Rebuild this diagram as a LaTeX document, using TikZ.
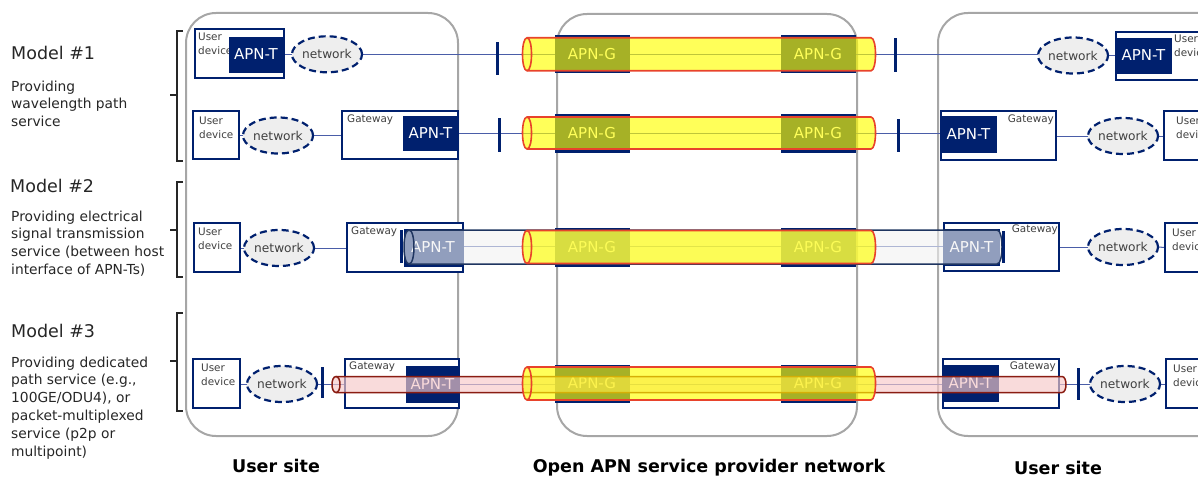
\documentclass[tikz,border=0pt]{standalone}
\usepackage{fontspec}
\setmainfont{DejaVu Sans}
\usetikzlibrary{shapes.geometric}
\definecolor{navy}{HTML}{00206E}
\definecolor{linec}{HTML}{4A5DA8}
\definecolor{sitegray}{HTML}{A6A6A6}
\definecolor{netfill}{HTML}{EEEEEE}
\definecolor{ytubefill}{HTML}{FFFF00}
\definecolor{ytubedraw}{HTML}{E8432B}
\definecolor{btubefill}{HTML}{F2F2F2}
\definecolor{btubedraw}{HTML}{1F3560}
\definecolor{rtubefill}{HTML}{F7C9C9}
\definecolor{rtubedraw}{HTML}{8A1C12}
\definecolor{txtgray}{HTML}{404040}
\definecolor{txtdark}{HTML}{262626}
\pgfdeclarelayer{bg}\pgfdeclarelayer{lines}\pgfdeclarelayer{tubes}\pgfdeclarelayer{top}
\pgfsetlayers{bg,lines,main,tubes,top}
% #1 x left face, #2 x right end, #3 y centre, #4 x radius, #5 y radius, #6 style
\newcommand{\tubeshape}[6]{%
  \path[#6] ({#1},{#3-#5}) -- ({#2},{#3-#5})
    .. controls ({#2+1.333*#4},{#3-#5}) and ({#2+1.333*#4},{#3+#5}) .. ({#2},{#3+#5})
    -- ({#1},{#3+#5})
    .. controls ({#1-1.333*#4},{#3+#5}) and ({#1-1.333*#4},{#3-#5}) .. ({#1},{#3-#5}) -- cycle;
  \path[#6,fill=none] ({#1},{#3-#5})
    .. controls ({#1+1.333*#4},{#3-#5}) and ({#1+1.333*#4},{#3+#5}) .. ({#1},{#3+#5});
}
\begin{document}
\begin{tikzpicture}[x=1pt,y=-1pt,
  site/.style={draw=sitegray,line width=2pt,rounded corners=30pt},
  box/.style={draw=navy,line width=1.8pt,fill=white,inner sep=0pt,outer sep=0pt},
  apnt/.style={fill=navy,draw=navy,line width=0.6pt,inner sep=0pt,outer sep=0pt,text=white,font=\fontsize{15}{18}\selectfont},
  net/.style={ellipse,draw=navy,line width=2.2pt,dash pattern=on 7pt off 4pt,fill=netfill,minimum width=70pt,minimum height=36pt,inner sep=0pt,outer sep=0pt,font=\fontsize{12.2}{14}\selectfont,text=txtgray},
  bar/.style={fill=navy,inner sep=0pt,outer sep=0pt,minimum width=3pt},
  small/.style={font=\fontsize{10.4}{13.5}\selectfont,text=txtgray,inner sep=0pt,align=left},
  link/.style={draw=linec,line width=1pt},
  brk/.style={draw=txtdark,line width=1.2pt},
  model/.style={font=\fontsize{17.5}{21}\selectfont,text=txtdark,inner sep=0pt},
  desc/.style={font=\fontsize{13.8}{17.8}\selectfont,text=txtdark,inner sep=0pt,align=left},
  lbl/.style={font=\fontsize{17.5}{21}\selectfont\bfseries,text=black,inner sep=0pt},
  ytube/.style={fill=ytubefill,fill opacity=0.65,draw=ytubedraw,line width=1.6pt},
  btube/.style={fill=btubefill,fill opacity=0.6,draw=btubedraw,line width=1.5pt},
  rtube/.style={fill=rtubefill,fill opacity=0.66,draw=rtubedraw,line width=1.5pt}]
\useasboundingbox (0,0) rectangle (1198,476);
\clip (0,0) rectangle (1198,476);

% ---- site boxes ----
\begin{pgfonlayer}{bg}
\draw[site] (186,13) rectangle (458,436);
\draw[site] (557,14) rectangle (857,436);
\draw[site] (938,13) rectangle (1240,436);
\end{pgfonlayer}

% ---- left texts ----
\node[model,anchor=base west] (m1) at (11,60) {Model \#1};
\node[desc,anchor=north west] (d1) at (11,80.5) {Providing\\wavelength path\\service};
\node[model,anchor=base west] (m2) at (10,192) {Model \#2};
\node[desc,anchor=north west] (d2) at (11,210.5) {Providing electrical\\signal transmission\\service (between host\\interface of APN-Ts)};
\node[model,anchor=base west] (m3) at (11,337) {Model \#3};
\node[desc,anchor=north west] (d3) at (11,356.5) {Providing dedicated\\path service (e.g.,\\100GE/ODU4), or\\packet-multiplexed\\service (p2p or\\multipoint)};
\draw[brk] (183,31) -- (177,31) -- (177,161) -- (183,161);
\draw[brk] (177,95) -- (170,95);
\draw[brk] (183,182) -- (177,182) -- (177,277) -- (183,277);
\draw[brk] (177,230) -- (170,230);
\draw[brk] (183,313) -- (177,313) -- (177,411) -- (183,411);
\draw[brk] (177,361) -- (170,361);

% ---- bottom labels ----
\node[lbl,anchor=base] (s1) at (276,472) {User site};
\node[lbl,anchor=base] (s2) at (709,472) {Open APN service provider network};
\node[lbl,anchor=base] (s3) at (1058,474) {User site};

% ================= Row 1 =================
\node[box,minimum width=89pt,minimum height=49pt] (ud1L) at (239.5,53.5) {};
\node[small,anchor=north west] (ud1Lt) at (198,33) {User\\device};
\node[apnt,minimum width=54pt,minimum height=35pt] (at1L) at (256,54.5) {APN-T};
\node[net] (n1L) at (327,54.3) {network};
\node[apnt,minimum width=74pt,minimum height=37pt] (ag1L) at (592,54.3) {APN-G};
\node[apnt,minimum width=74pt,minimum height=37pt] (ag1R) at (818,54.3) {APN-G};
\node[net] (n1R) at (1073,55.5) {network};
\node[box,minimum width=104pt,minimum height=48pt] (ud1R) at (1168,56) {};
\node[small,anchor=north west] (ud1Rt) at (1174,35) {User\\device};
\node[apnt,minimum width=55pt,minimum height=35pt] (at1R) at (1143.5,55.5) {APN-T};

% ================= Row 2 =================
\node[box,minimum width=46pt,minimum height=48pt] (ud2L) at (216,135) {};
\node[small,anchor=north west] (ud2Lt) at (199,117) {User\\device};
\node[net] (n2L) at (278,135.5) {network};
\node[box,minimum width=116pt,minimum height=48pt] (gw2L) at (400,135) {};
\node[small,anchor=north west] (gw2Lt) at (347,115) {Gateway};
\node[apnt,minimum width=55pt,minimum height=34pt] (at2L) at (430.5,133.5) {APN-T};
\node[apnt,minimum width=74pt,minimum height=37pt] (ag2L) at (592,133.3) {APN-G};
\node[apnt,minimum width=74pt,minimum height=37pt] (ag2R) at (818,133.3) {APN-G};
\node[box,minimum width=115pt,minimum height=49pt] (gw2R) at (998.5,135.5) {};
\node[small,anchor=north east] (gw2Rt) at (1054,115) {Gateway};
\node[apnt,minimum width=55pt,minimum height=36pt] (at2R) at (968.5,134.5) {APN-T};
\node[net] (n2R) at (1123,136) {network};
\node[box,minimum width=60pt,minimum height=49pt] (ud2R) at (1194,135.5) {};
\node[small,anchor=north west] (ud2Rt) at (1176,117) {User\\device};

% ================= Row 3 =================
\node[box,minimum width=46pt,minimum height=49pt] (ud3L) at (217,247.5) {};
\node[small,anchor=north west] (ud3Lt) at (198,228) {User\\device};
\node[net] (n3L) at (279,248) {network};
\node[box,minimum width=116pt,minimum height=49pt] (gw3L) at (405,247.5) {};
\node[small,anchor=north west] (gw3Lt) at (351,227) {Gateway};
\node[apnt,minimum width=58pt,minimum height=37pt] (at3L) at (433,247.5) {APN-T};
\node[apnt,minimum width=74pt,minimum height=38pt] (ag3L) at (592,247) {APN-G};
\node[apnt,minimum width=74pt,minimum height=38pt] (ag3R) at (818,247) {APN-G};
\node[box,minimum width=115pt,minimum height=48pt] (gw3R) at (1001.5,247) {};
\node[small,anchor=north east] (gw3Rt) at (1058,225) {Gateway};
\node[apnt,minimum width=55pt,minimum height=36pt] (at3R) at (971.5,247) {APN-T};
\node[net] (n3R) at (1123,247) {network};
\node[box,minimum width=60pt,minimum height=49pt] (ud3R) at (1195,247.5) {};
\node[small,anchor=north west] (ud3Rt) at (1172,229) {User\\device};

% ================= Row 4 =================
\node[box,minimum width=47pt,minimum height=49pt] (ud4L) at (216.5,383.5) {};
\node[small,anchor=north west] (ud4Lt) at (201,364) {User\\device};
\node[net] (n4L) at (282,384) {network};
\node[box,minimum width=114pt,minimum height=49pt] (gw4L) at (402,383.5) {};
\node[small,anchor=north west] (gw4Lt) at (349,362) {Gateway};
\node[apnt,minimum width=53pt,minimum height=36pt] (at4L) at (432.5,384) {APN-T};
\node[apnt,minimum width=74pt,minimum height=37pt] (ag4L) at (592,383.5) {APN-G};
\node[apnt,minimum width=74pt,minimum height=37pt] (ag4R) at (818,383.5) {APN-G};
\node[box,minimum width=116pt,minimum height=49pt] (gw4R) at (1001,383.5) {};
\node[small,anchor=north east] (gw4Rt) at (1056,362) {Gateway};
\node[apnt,minimum width=55pt,minimum height=36pt] (at4R) at (970.5,383) {APN-T};
\node[net] (n4R) at (1125,384) {network};
\node[box,minimum width=60pt,minimum height=49pt] (ud4R) at (1196,383.5) {};
\node[small,anchor=north west] (ud4Rt) at (1173,365) {User\\device};

% ---- bars (top layer) ----
\begin{pgfonlayer}{top}
\node[bar,minimum height=33pt] (b1L) at (497,58.3) {};
\node[bar,minimum height=34pt] (b1R) at (895,55) {};
\node[bar,minimum height=34pt] (b2L) at (499,135) {};
\node[bar,minimum height=33pt] (b2R) at (898,135.5) {};
\node[bar,minimum height=33pt] (b3L) at (401,246.5) {};
\node[bar,minimum height=32pt] (b3R) at (1003,247) {};
\node[bar,minimum height=31pt] (b4L) at (322,382.5) {};
\node[bar,minimum height=32pt] (b4R) at (1078,384) {};
\end{pgfonlayer}

% ---- connectors ----
\begin{pgfonlayer}{lines}
\draw[link] (at1L.east |- n1L.west) -- (n1L.west);
\draw[link] (n1L.east) -- (n1L.east -| n1R.west);
\draw[link] (n1R.east) -- (n1R.east -| at1R.west);
\draw[link] (ud2L.east |- n2L.west) -- (n2L.west);
\draw[link] (n2L.east) -- (gw2L.west |- n2L.east);
\draw[link] (at2L.east) -- (at2L.east -| at2R.west);
\draw[link] (gw2R.east |- n2R.west) -- (n2R.west);
\draw[link] (n2R.east) -- (n2R.east -| ud2R.west);
\draw[link] (ud3L.east |- n3L.west) -- (n3L.west);
\draw[link] (n3L.east) -- (gw3L.west |- n3L.east);
\draw[link] (b3L.center) -- (b3L.center -| b3R.center);
\draw[link] (gw3R.east) -- (n3R.west);
\draw[link] (n3R.east) -- (ud3R.west);
\draw[link] (ud4L.east |- n4L.west) -- (n4L.west);
\draw[link] (n4L.east) -- (n4R.west);
\draw[link] (n4R.east) -- (n4R.east -| ud4R.west);
\end{pgfonlayer}

% ---- tubes ----
\begin{pgfonlayer}{tubes}
\tubeshape{527}{871}{54.3}{4.5}{16.5}{ytube}
\tubeshape{527}{871}{133}{4.5}{16}{ytube}
\tubeshape{409}{997}{247}{5}{17}{btube}
\tubeshape{527}{871}{247}{4.5}{16.5}{ytube}
\tubeshape{336}{1062}{384.5}{4}{8}{rtube}
\tubeshape{527}{871}{383.5}{4.5}{16.5}{ytube}
\end{pgfonlayer}
\end{tikzpicture}
\end{document}
